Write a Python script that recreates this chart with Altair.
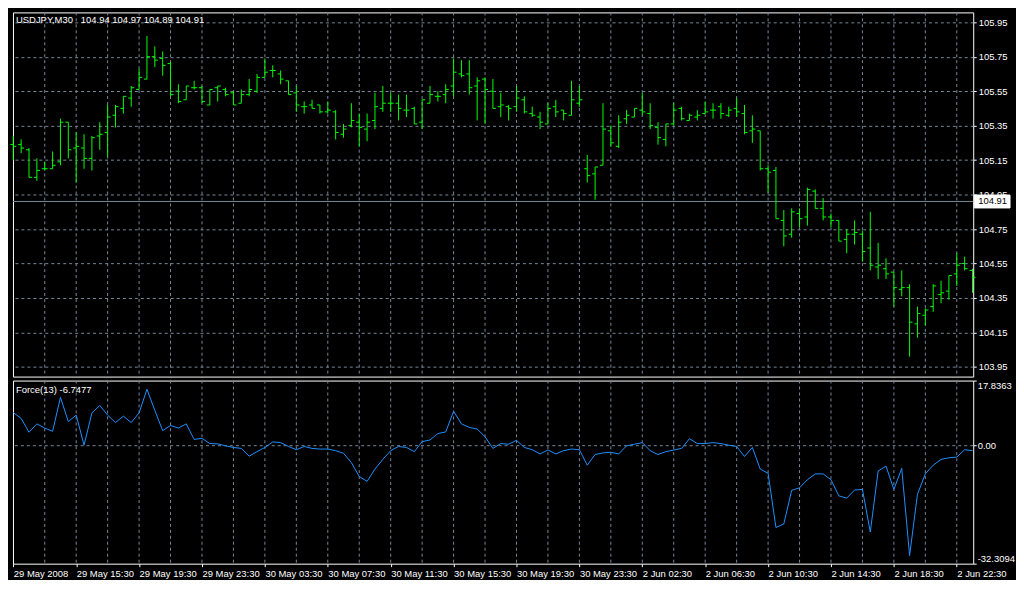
import json
import altair as alt
import pandas as pd

# ---------------- data ----------------
symbol_title = "USDJPY,M30\u00a0\u00a0\u00a0104.94 104.97 104.89 104.91"
force_title = "Force(13) -6.7477"
bid_price = 104.91
bid_label = "104.91"

opens = [105.24, 105.24, 105.21, 105.05, 105.10, 105.10, 105.14, 105.37, 105.22, 105.22,
         105.16, 105.29, 105.31, 105.41, 105.45, 105.51, 105.56, 105.62, 105.75, 105.74,
         105.71, 105.55, 105.50, 105.57, 105.57, 105.47, 105.57, 105.56, 105.54, 105.48,
         105.53, 105.55, 105.63, 105.67, 105.65, 105.61, 105.54, 105.46, 105.47, 105.47,
         105.43, 105.43, 105.30, 105.35, 105.37, 105.33, 105.38, 105.45, 105.48, 105.48,
         105.44, 105.45, 105.37, 105.48, 105.52, 105.53, 105.58, 105.65, 105.65, 105.58,
         105.62, 105.55, 105.46, 105.46, 105.46, 105.50, 105.42, 105.40, 105.36, 105.46,
         105.44, 105.41, 105.48, 105.10, 105.07, 105.12, 105.32, 105.23, 105.39, 105.40,
         105.44, 105.42, 105.34, 105.27, 105.36, 105.45, 105.38, 105.40, 105.42, 105.44,
         105.46, 105.41, 105.45, 105.42, 105.32, 105.32, 105.10, 105.09, 104.80, 104.72,
         104.84, 104.82, 104.97, 104.87, 104.82, 104.80, 104.69, 104.72, 104.72, 104.64,
         104.53, 104.52, 104.50, 104.40, 104.41, 104.20, 104.25, 104.30, 104.37, 104.39,
         104.49, 104.55, 104.51]
highs = [105.29, 105.27, 105.22, 105.16, 105.14, 105.20, 105.39, 105.37, 105.31, 105.30,
         105.29, 105.37, 105.47, 105.47, 105.52, 105.58, 105.68, 105.87, 105.81, 105.78,
         105.72, 105.59, 105.58, 105.61, 105.58, 105.56, 105.58, 105.57, 105.55, 105.56,
         105.62, 105.65, 105.74, 105.70, 105.67, 105.61, 105.58, 105.49, 105.50, 105.47,
         105.49, 105.44, 105.36, 105.48, 105.42, 105.42, 105.54, 105.58, 105.54, 105.53,
         105.53, 105.46, 105.50, 105.58, 105.55, 105.59, 105.74, 105.73, 105.73, 105.63,
         105.63, 105.62, 105.54, 105.47, 105.58, 105.52, 105.46, 105.43, 105.48, 105.50,
         105.44, 105.61, 105.58, 105.18, 105.11, 105.48, 105.35, 105.41, 105.44, 105.45,
         105.54, 105.48, 105.37, 105.36, 105.48, 105.46, 105.42, 105.44, 105.49, 105.48,
         105.48, 105.46, 105.51, 105.47, 105.41, 105.32, 105.12, 105.11, 104.86, 104.87,
         104.87, 104.99, 104.98, 104.93, 104.84, 104.80, 104.75, 104.80, 104.74, 104.85,
         104.67, 104.58, 104.50, 104.51, 104.43, 104.30, 104.29, 104.43, 104.45, 104.48,
         104.61, 104.59, 104.52]
lows = [105.15, 105.19, 105.05, 105.03, 105.09, 105.10, 105.12, 105.16, 105.02, 105.10,
        105.09, 105.21, 105.17, 105.34, 105.42, 105.46, 105.56, 105.62, 105.69, 105.64,
        105.52, 105.48, 105.50, 105.56, 105.48, 105.47, 105.49, 105.52, 105.47, 105.48,
        105.52, 105.54, 105.63, 105.63, 105.59, 105.53, 105.43, 105.42, 105.45, 105.42,
        105.42, 105.27, 105.28, 105.34, 105.23, 105.26, 105.33, 105.43, 105.43, 105.38,
        105.40, 105.36, 105.33, 105.48, 105.49, 105.48, 105.52, 105.63, 105.53, 105.38,
        105.36, 105.45, 105.40, 105.38, 105.43, 105.42, 105.40, 105.33, 105.36, 105.40,
        105.38, 105.41, 105.46, 105.02, 104.92, 105.12, 105.23, 105.22, 105.36, 105.40,
        105.41, 105.33, 105.24, 105.23, 105.35, 105.38, 105.38, 105.38, 105.42, 105.39,
        105.39, 105.40, 105.40, 105.30, 105.25, 105.09, 104.96, 104.81, 104.65, 104.70,
        104.76, 104.77, 104.87, 104.80, 104.76, 104.68, 104.61, 104.66, 104.56, 104.51,
        104.46, 104.46, 104.30, 104.36, 104.01, 104.12, 104.19, 104.27, 104.32, 104.34,
        104.42, 104.51, 104.38]
closes = [105.23, 105.22, 105.05, 105.09, 105.10, 105.12, 105.37, 105.21, 105.23, 105.16,
          105.28, 105.30, 105.40, 105.46, 105.52, 105.57, 105.63, 105.75, 105.73, 105.70,
          105.53, 105.49, 105.58, 105.57, 105.49, 105.56, 105.58, 105.53, 105.47, 105.53,
          105.56, 105.63, 105.66, 105.67, 105.62, 105.53, 105.47, 105.46, 105.45, 105.43,
          105.44, 105.31, 105.33, 105.38, 105.34, 105.37, 105.46, 105.48, 105.48, 105.45,
          105.44, 105.36, 105.50, 105.53, 105.52, 105.56, 105.66, 105.64, 105.57, 105.61,
          105.56, 105.45, 105.47, 105.45, 105.51, 105.43, 105.41, 105.37, 105.45, 105.43,
          105.42, 105.50, 105.50, 105.06, 105.11, 105.33, 105.25, 105.37, 105.41, 105.45,
          105.43, 105.35, 105.28, 105.36, 105.44, 105.39, 105.41, 105.41, 105.43, 105.44,
          105.42, 105.44, 105.43, 105.31, 105.33, 105.10, 105.08, 104.81, 104.71, 104.85,
          104.81, 104.98, 104.87, 104.82, 104.80, 104.68, 104.72, 104.73, 104.62, 104.54,
          104.54, 104.49, 104.41, 104.41, 104.21, 104.26, 104.28, 104.42, 104.38, 104.48,
          104.54, 104.52, 104.47]
force = [9.07, 7.48, 3.68, 5.98, 4.83, 3.94, 13.23, 6.60, 8.37, 0.14,
         8.98, 11.02, 8.37, 6.33, 8.10, 6.33, 8.98, 15.44, 9.69, 4.12,
         5.54, 4.83, 5.98, 1.73, 2.00, 0.58, 0.50, -0.04, -0.48, -0.74,
         -2.87, -1.63, -0.48, 1.03, 0.85, -0.21, -1.10, -0.21, -0.74, -0.92,
         -0.92, -1.36, -2.07, -4.63, -8.44, -9.76, -6.40, -3.75, -1.36, -0.21,
         -0.48, -1.63, 1.11, 1.56, 3.33, 3.77, 9.42, 5.98, 5.01, 4.56,
         2.44, -0.74, 0.58, 0.41, 1.47, -0.48, -1.10, -2.25, -1.18, -2.25,
         -1.36, -0.92, -1.10, -5.34, -2.42, -1.98, -1.80, -2.25, -0.04, 0.41,
         0.85, -1.36, -2.42, -1.63, -1.18, -0.74, 1.91, 0.58, 0.58, 0.85,
         0.58, 0.14, -0.21, -2.95, -0.48, -6.40, -7.55, -22.41, -21.43, -12.23,
         -11.53, -9.32, -7.73, -7.73, -9.32, -13.74, -14.36, -12.15, -11.97, -23.64,
         -6.93, -5.61, -11.97, -6.22, -30.10, -13.30, -7.73, -5.34, -3.75, -3.31,
         -3.13, -1.10, -1.36]

price_ticks = [103.95, 104.15, 104.35, 104.55, 104.75, 104.95,
               105.15, 105.35, 105.55, 105.75, 105.95]
force_ticks = [17.8363, 0.0, -32.3094]
force_tick_labels = ["17.8363", "0.00", "-32.3094"]
time_labels = ["29 May 2008", "29 May 15:30", "29 May 19:30", "29 May 23:30",
               "30 May 03:30", "30 May 07:30", "30 May 11:30", "30 May 15:30",
               "30 May 19:30", "30 May 23:30", "2 Jun 02:30", "2 Jun 06:30",
               "2 Jun 10:30", "2 Jun 14:30", "2 Jun 18:30", "2 Jun 22:30"]
label_every = 8
grid_every = 4

# ---------------- styling ----------------
FONT = "Liberation Sans"
FS = 9.5
GREEN = "#00FF00"
BLUE = "#1E90FF"
GRID = "#778899"
W = 965
H1 = 366
H2 = 184

n = len(opens)
bars = pd.DataFrame({"i": list(range(n)), "o": opens, "h": highs,
                     "l": lows, "c": closes, "f": force})
grid_df = pd.DataFrame({"g": list(range(grid_every, n, grid_every))})
title_df = pd.DataFrame({"t": [symbol_title]})
ftitle_df = pd.DataFrame({"t": [force_title]})
bid_df = pd.DataFrame({"t": [bid_label]})

x_scale = alt.Scale(domain=[-0.04, n - 1 + 0.09], nice=False, zero=False)
y_scale = alt.Scale(domain=[103.894, 106.007], nice=False, zero=False)
f_scale = alt.Scale(domain=[force_ticks[2], force_ticks[0]], nice=False, zero=False)


def price_axis():
    return alt.Axis(orient="right", values=price_ticks, format=".2f", title=None,
                    grid=True, gridColor=GRID, gridDash=[3, 3], gridOpacity=1,
                    domain=False, tickColor="white", tickSize=3,
                    labelColor="white", labelFont=FONT, labelFontSize=FS,
                    labelPadding=2, labelFlush=False, labelOverlap=False)


fexpr = ("datum.value > 1 ? '%s' : (datum.value < -1 ? '%s' : '%s')"
         % (force_tick_labels[0], force_tick_labels[2], force_tick_labels[1]))


def force_axis():
    return alt.Axis(orient="right", values=force_ticks, labelExpr=fexpr, title=None,
                    grid=False, domain=False, tickColor="white", tickSize=3,
                    labelColor="white", labelFont=FONT, labelFontSize=FS,
                    labelPadding=1, labelFlush=True, labelOverlap=False)


def time_axis():
    return alt.Axis(orient="bottom", values=list(range(0, n, label_every)),
                    labelExpr=json.dumps(time_labels) + "[round(datum.value / %d)]" % label_every,
                    title=None, grid=False, domain=False, tickColor="white", tickSize=3,
                    labelColor="white", labelFont=FONT, labelFontSize=FS,
                    labelAlign="left", labelPadding=2, labelFlush=False,
                    labelOverlap=False, labelBound=False)


# ---------------- price panel ----------------
vgrid_top = alt.Chart(grid_df).mark_rule(color=GRID, strokeDash=[3, 3], strokeWidth=1).encode(
    x=alt.X("g:Q", scale=x_scale, axis=None))

bid_line = alt.Chart(bid_df).mark_rule(color=GRID, strokeWidth=1).encode(
    y=alt.YDatum(bid_price, scale=y_scale, axis=price_axis()))

hl = alt.Chart(bars).mark_rule(color=GREEN, strokeWidth=1).encode(
    x=alt.X("i:Q", scale=x_scale, axis=None),
    y=alt.Y("l:Q", scale=y_scale, axis=price_axis()),
    y2="h:Q")

open_tick = alt.Chart(bars).mark_rule(color=GREEN, strokeWidth=1, xOffset=-3).encode(
    x=alt.X("i:Q", scale=x_scale, axis=None), x2="i:Q",
    y=alt.Y("o:Q", scale=y_scale, axis=price_axis()))

close_tick = alt.Chart(bars).mark_rule(color=GREEN, strokeWidth=1, x2Offset=3).encode(
    x=alt.X("i:Q", scale=x_scale, axis=None), x2="i:Q",
    y=alt.Y("c:Q", scale=y_scale, axis=price_axis()))

title_txt = alt.Chart(title_df).mark_text(
    align="left", baseline="top", color="white", font=FONT, fontSize=FS).encode(
    x=alt.value(3), y=alt.value(3), text="t:N")

bid_box = alt.Chart(bid_df).mark_rect(fill="white", stroke="white", yOffset=-6.5,
                                      y2Offset=6.5).encode(
    x=alt.value(W + 1), x2=alt.value(W + 37),
    y=alt.YDatum(bid_price, scale=y_scale, axis=price_axis()),
    y2=alt.Y2Datum(bid_price))

bid_txt = alt.Chart(bid_df).mark_text(
    align="left", baseline="middle", color="black", font=FONT, fontSize=FS).encode(
    x=alt.value(W + 5), y=alt.YDatum(bid_price, scale=y_scale, axis=price_axis()),
    text="t:N")

price_panel = alt.layer(vgrid_top, bid_line, hl, open_tick, close_tick, title_txt,
                        bid_box, bid_txt).properties(width=W, height=H1)

# ---------------- force panel ----------------
vgrid_bot = alt.Chart(grid_df).mark_rule(color=GRID, strokeDash=[3, 3], strokeWidth=1).encode(
    x=alt.X("g:Q", scale=x_scale, axis=time_axis()))

zero_line = alt.Chart(bid_df).mark_rule(color=GRID, strokeDash=[3, 3], strokeWidth=1).encode(
    y=alt.YDatum(0, scale=f_scale, axis=force_axis()))

force_line = alt.Chart(bars).mark_line(color=BLUE, strokeWidth=1).encode(
    x=alt.X("i:Q", scale=x_scale, axis=time_axis()),
    y=alt.Y("f:Q", scale=f_scale, axis=force_axis()))

ftitle_txt = alt.Chart(ftitle_df).mark_text(
    align="left", baseline="top", color="white", font=FONT, fontSize=FS).encode(
    x=alt.value(3), y=alt.value(4), text="t:N")

force_panel = alt.layer(vgrid_bot, zero_line, force_line, ftitle_txt).properties(
    width=W, height=H2)

chart = alt.vconcat(price_panel, force_panel, spacing=2).properties(
    background="black",
    padding={"left": 1, "top": 2, "right": 0, "bottom": 0},
).configure_view(stroke="white", strokeWidth=1)

chart.save("out.html", embed_options={"renderer": "svg", "actions": False})
